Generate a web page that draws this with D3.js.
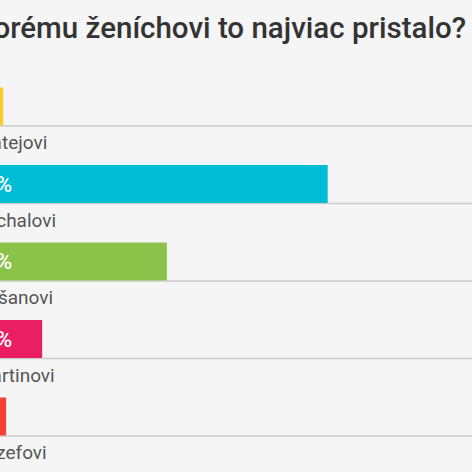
<!DOCTYPE html>
<html><head><meta charset="utf-8">
<script src="https://cdn.jsdelivr.net/npm/d3@7/dist/d3.min.js"></script>
<style>
html,body{margin:0;padding:0;background:#f5f5f5;overflow:hidden;}
svg{display:block;}
</style></head>
<body>
<svg id="chart" width="472" height="472"></svg>
<script>
const title = "Ktorému ženíchovi to najviac pristalo?";
const categories = ["Matejovi", "Michalovi", "Dušanovi", "Martinovi", "Jozefovi"];
const values = [5.3, 50.3, 28.0, 10.7, 5.7];
const colors = ["#f7cb2d", "#00bcd4", "#8bc34a", "#e91e63", "#f44336"];

const W = 472, H = 472;
const left = -35;
const svg = d3.select("#chart");
svg.append("rect").attr("width", W).attr("height", H).attr("fill", "#f5f5f5");

const x = d3.scaleLinear().domain([0, 100]).range([left, left + 721]);
const y = d3.scaleBand().domain(categories).range([87.5, 87.5 + 77.5 * categories.length]);
const barH = 38;

svg.append("text")
  .attr("x", 466).attr("y", 38)
  .attr("text-anchor", "end")
  .attr("font-family", "Roboto").attr("font-weight", 500)
  .attr("font-size", 29.5).attr("fill", "#333")
  .text(title);

const rows = svg.selectAll("g.row").data(categories).join("g").attr("class", "row");

rows.append("line")
  .attr("x1", left).attr("x2", W + 10)
  .attr("y1", d => y(d) + barH + 0.5).attr("y2", d => y(d) + barH + 0.5)
  .attr("stroke", "#cccccc").attr("stroke-width", 1.5);

rows.append("rect")
  .attr("x", x(0))
  .attr("y", d => y(d))
  .attr("width", (d, i) => x(values[i]) - x(0))
  .attr("height", barH)
  .attr("fill", (d, i) => colors[i]);

rows.filter((d, i) => values[i] >= 8).append("text")
  .attr("x", x(0) + 6)
  .attr("y", d => y(d) + barH / 2)
  .attr("dy", "0.36em")
  .attr("font-family", "Roboto").attr("font-weight", 500)
  .attr("font-size", 22).attr("fill", "#ffffff")
  .text(d => Math.round(values[categories.indexOf(d)]) + "%");

rows.append("text")
  .attr("x", left + 10)
  .attr("y", d => y(d) + barH + 0.5 + 23)
  .attr("font-family", "Roboto").attr("font-size", 19)
  .attr("fill", "#555")
  .text(d => d);
</script>
</body></html>
